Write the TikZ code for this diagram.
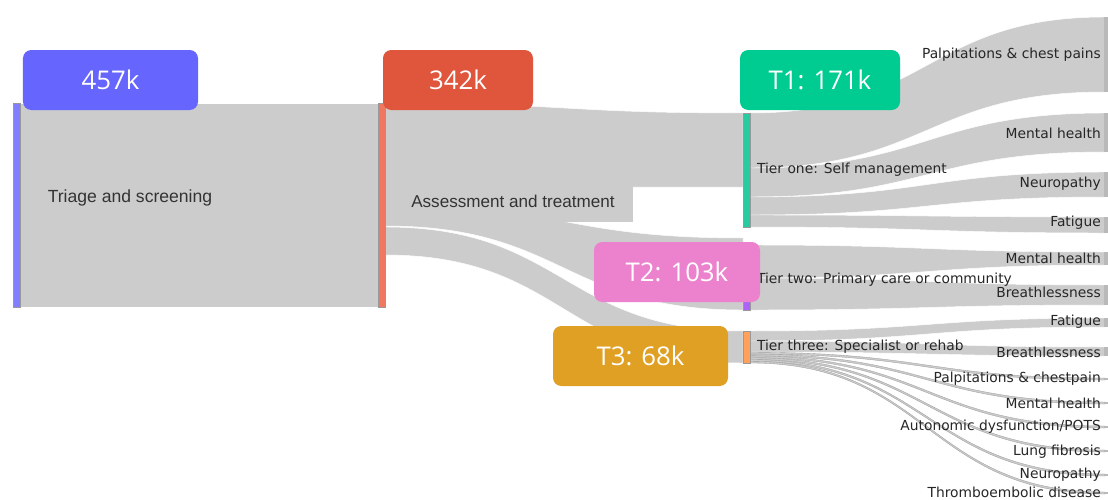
\documentclass[tikz,border=0pt]{standalone}
\usepackage{fontspec}
\setmainfont{Liberation Sans}
\newfontfamily\boxfont{Open Sans}
\newfontfamily\tierfont{DejaVu Sans}
\usetikzlibrary{positioning}
\definecolor{boxblue}{RGB}{102, 102, 255}
\definecolor{boxred}{RGB}{224, 86, 60}
\definecolor{boxgreen}{RGB}{0, 204, 145}
\definecolor{boxpink}{RGB}{236, 130, 206}
\definecolor{boxgold}{RGB}{224, 160, 36}
\definecolor{triagebar}{RGB}{128, 128, 255}
\definecolor{assessbar}{RGB}{240, 120, 96}
\definecolor{tieronebar}{RGB}{40, 204, 160}
\definecolor{tiertwobar}{RGB}{171, 99, 250}
\definecolor{tierthreebar}{RGB}{255, 161, 90}
\definecolor{flowgray}{RGB}{204, 204, 204}

%% band between two bars: [style]{x1}{top1}{bottom1}{x2}{top2}{bottom2}
\newcommand{\flowband}[7][flow]{%
  \path[#1] (#2,#3) .. controls ({(#2+#5)/2},#3) and ({(#2+#5)/2},#6) .. (#5,#6)
    -- (#5,#7) .. controls ({(#2+#5)/2},#7) and ({(#2+#5)/2},#4) .. (#2,#4) -- cycle;}

\begin{document}
\begin{tikzpicture}[x=0.03cm, y=-0.03cm,
    flow/.style={fill=flowgray, draw=white, line width=0.4pt},
    thinflow/.style={fill=flowgray, draw=gray!75, line width=0.3pt},
    bar/.style={draw=black!40, line width=0.3pt, minimum width=0.21cm, inner sep=0pt},
    endbar/.style={fill=gray!55, minimum width=0.12cm, inner sep=0pt},
    valbox/.style={rounded corners=0.25cm, minimum height=1.8cm, text=white,
                   font=\boxfont\fontsize{22}{26}\selectfont},
    lblbox/.style={fill=flowgray, inner sep=0pt, text=black!80,
                   font=\fontsize{15}{18}\selectfont},
    tierlbl/.style={font=\tierfont\fontsize{11.8}{14}\selectfont, text=black!85, inner sep=0pt},
    endlbl/.style={tierlbl, anchor=east},
  ]
    \useasboundingbox (0,0) rectangle (1108,500);
    \fill[white] (0,0) rectangle (1108,500);
    \clip (0,0) rectangle (1108,500);

    %% flows, left part
    \flowband{20}{103}{307}{378}{103}{307}
    \flowband{385}{103}{187}{743}{113}{187}
    \flowband{385}{205}{226}{743}{238}{310}
    \flowband{385}{227}{255}{743}{331}{363}

    %% flows out of the three tiers
    \flowband{750}{113}{168}{1105}{17}{92}
    \flowband{750}{168}{197}{1105}{113}{152}
    \flowband{750}{197}{215}{1105}{172}{197}
    \flowband{750}{215}{227}{1105}{217}{233}
    \flowband{750}{245}{278}{1105}{252}{265}
    \flowband{750}{278}{310}{1105}{285}{305}
    \flowband{750}{331}{341}{1105}{318}{327}
    \flowband{750}{341}{352}{1105}{347}{356}
    \flowband[thinflow]{750}{352.3}{354.1}{1105}{378}{380}
    \flowband[thinflow]{750}{354.1}{355.9}{1105}{402}{404}
    \flowband[thinflow]{750}{355.9}{357.7}{1105}{426}{428}
    \flowband[thinflow]{750}{357.7}{359.5}{1105}{450}{452}
    \flowband[thinflow]{750}{359.5}{361.3}{1105}{474}{476}
    \flowband[thinflow]{750}{361.3}{363}{1105}{492}{494}

    %% stage labels on grey boxes
    \node[lblbox, minimum width=6.6cm, minimum height=1.5cm]
      (triagelbl) at (130,198) {Triage and screening};
    \node[lblbox, minimum width=7.44cm, minimum height=1.11cm]
      (assesslbl) at (509,203.5) {};
    \node[lblbox, fill=none, font=\fontsize{14.6}{18}\selectfont]
      (assesstxt) at (513,201) {Assessment and treatment};

    %% bars
    \node[bar, fill=triagebar, minimum height=6.12cm] (triage) at (16.5,205) {};
    \node[bar, fill=assessbar, minimum height=6.12cm] (assess) at (381.5,205) {};
    \node[bar, fill=tieronebar, minimum height=3.42cm] (tierone) at (746.5,170) {};
    \node[bar, fill=tiertwobar, minimum height=1.95cm] (tiertwo) at (746.5,277.5) {};
    \node[bar, fill=tierthreebar, minimum height=0.96cm] (tierthree) at (746.5,347) {};
    \foreach \t/\b [count=\i] in {17/92, 113/152, 172/197, 217/233, 252/265, 285/305,
        318/327, 347/356, 378/380, 402/404, 426/428, 450/452, 474/476, 492/494}
      \node[endbar, minimum height={(\b-\t)*0.03cm}] (end\i) at (1106,{(\t+\b)/2}) {};

    %% tier and condition labels
    \node[tierlbl, right=0.2cm of tierone] (onelbl) {Tier one: Self management};
    \node[tierlbl, right=0.2cm of tiertwo, yshift=-0.07cm] (twolbl) {Tier two: Primary care or community};
    \node[tierlbl, right=0.2cm of tierthree] (threelbl) {Tier three: Specialist or rehab};
    \foreach \y/\txt [count=\i] in {55/{Palpitations \& chest pains}, 133/{Mental health},
        184/{Neuropathy}, 223/{Fatigue}, 258/{Mental health}, 292/{Breathlessness},
        322/{Fatigue}, 352/{Breathlessness}, 379/{Palpitations \& chestpain},
        403/{Mental health}, 427/{Autonomic dysfunction/POTS}, 452/{Lung fibrosis},
        475/{Neuropathy}, 492/{Thromboembolic disease}}
      \node[endlbl] (cond\i) at (1101,\y) {\txt};

    %% value boxes
    \node[valbox, fill=boxblue, minimum width=5.25cm] (v457) at (110.5,80) {457k};
    \node[valbox, fill=boxred, minimum width=4.5cm] (v342) at (458,80) {342k};
    \node[valbox, fill=boxgreen, minimum width=4.8cm] (vone) at (820,80) {T1: 171k};
    \node[valbox, fill=boxpink, minimum width=4.98cm] (vtwo) at (677,272) {T2: 103k};
    \node[valbox, fill=boxgold, minimum width=5.25cm] (vthree) at (640.5,356) {T3: 68k};
\end{tikzpicture}
\end{document}
